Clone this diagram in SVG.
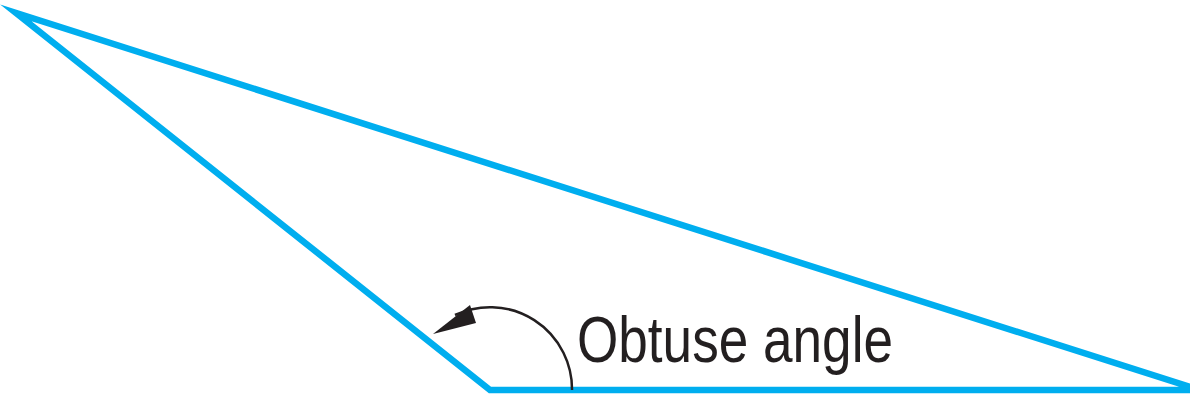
<svg xmlns="http://www.w3.org/2000/svg" width="1190" height="397" viewBox="0 0 1190 397">
<style>
.edge{fill:none;stroke:#00AEEF;stroke-width:6.5;stroke-linejoin:miter;stroke-miterlimit:10}
.arc{fill:none;stroke:#231F20;stroke-width:2.5}
.lbl{font-family:"Liberation Sans",Arial,sans-serif;font-size:64px;fill:#231F20}
</style>
<defs>
<marker id="ah" viewBox="0 0 10 10" refX="9" refY="5" markerWidth="10" markerHeight="10" markerUnits="userSpaceOnUse" orient="auto">
<path d="M0,0 L10,5 L0,10 z" fill="#231F20"/>
</marker>
</defs>
<g id="triangle">
<polygon class="edge" points="16,13 490,390 1200,390"/>
</g>
<g id="connectors">
<path class="arc" d="M572,390 A82,82 0 0 0 455,315"/>
<path d="M470,305 L433,334 L476,323 z" fill="#231F20"/>
</g>
<g id="label">
<text class="lbl" x="577" y="362" textLength="316" lengthAdjust="spacingAndGlyphs">Obtuse angle</text>
</g>
</svg>
